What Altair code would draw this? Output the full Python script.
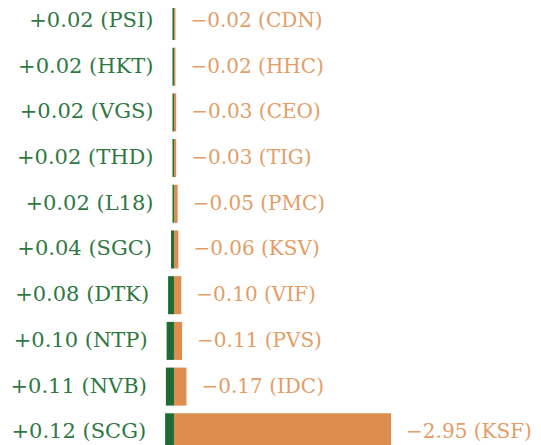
import altair as alt
import pandas as pd

left_codes = ["PSI", "HKT", "VGS", "THD", "L18", "SGC", "DTK", "NTP", "NVB", "SCG"]
left_values = [0.02, 0.02, 0.02, 0.02, 0.02, 0.04, 0.08, 0.10, 0.11, 0.12]
right_codes = ["CDN", "HHC", "CEO", "TIG", "PMC", "KSV", "VIF", "PVS", "IDC", "KSF"]
right_values = [-0.02, -0.02, -0.03, -0.03, -0.05, -0.06, -0.10, -0.11, -0.17, -2.95]

df = pd.DataFrame({
    "row": list(range(len(left_codes))),
    "lv": left_values,
    "rv": right_values,
    "lcode": left_codes,
    "rcode": right_codes,
})
df["lneg"] = -df["lv"]
df["rabs"] = df["rv"].abs()
df["llabel"] = [f"+{v:.2f} ({c})" for v, c in zip(left_values, left_codes)]
df["rlabel"] = [f"\u2212{abs(v):.2f} ({c})" for v, c in zip(right_values, right_codes)]

GREEN_BAR = "#1f6b36"
ORANGE_BAR = "#dd8e4e"
GREEN_TXT = "#2f7842"
ORANGE_TXT = "#e39d66"
FONT = "DejaVu Serif"

xs = alt.Scale(domain=[-2.255, 4.878], nice=False, zero=False)
ys = alt.Scale(range=[-6, 443.3], paddingInner=0.168, paddingOuter=0)
y = alt.Y("row:O", scale=ys, axis=None)

base = alt.Chart(df)

gbar = base.mark_bar(color=GREEN_BAR).encode(
    x=alt.X("lneg:Q", scale=xs, axis=None), x2=alt.datum(0), y=y
)
obar = base.mark_bar(color=ORANGE_BAR).encode(
    x=alt.X("rabs:Q", scale=xs, axis=None), x2=alt.datum(0), y=y
)
ltxt = base.mark_text(align="right", baseline="middle", dx=-19, font=FONT,
                      fontSize=21, color=GREEN_TXT).encode(
    x=alt.X("lneg:Q", scale=xs, axis=None), y=y, text="llabel:N"
)
rtxt = base.mark_text(align="left", baseline="middle", dx=15, font=FONT,
                      fontSize=20, color=ORANGE_TXT).encode(
    x=alt.X("rabs:Q", scale=xs, axis=None), y=y, text="rlabel:N"
)

chart = alt.layer(gbar, obar, ltxt, rtxt).properties(
    width=525, height=437,
    autosize=alt.AutoSizeParams(type="none"),
    padding=0,
).configure_view(stroke=None)

chart.save("out.html", embed_options={"renderer": "svg", "actions": False})
